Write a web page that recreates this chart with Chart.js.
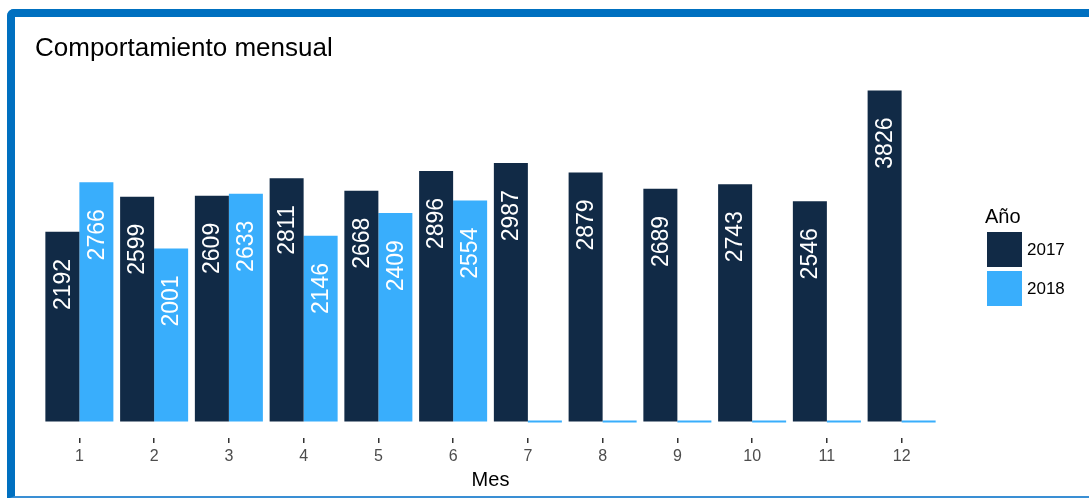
<!DOCTYPE html>
<html>
<head>
<meta charset="utf-8">
<script src="https://cdn.jsdelivr.net/npm/chart.js@4"></script>
<style>
  html, body { margin: 0; padding: 0; background: #fff; overflow: hidden; }
  #marco {
    position: absolute; left: 7px; top: 9px; width: 1120px; height: 479px;
    border-left: 8px solid #0070c0; border-top: 8px solid #0070c0;
    border-bottom: 3px solid #3a8fd4; border-top-left-radius: 7px;
  }
  #contenedor { position: absolute; left: 0; top: 0; width: 1089px; height: 498px; }
</style>
</head>
<body>
<div id="marco"></div>
<div id="contenedor"><canvas id="grafico" width="1089" height="498"></canvas></div>
<script>
const meses = ['1', '2', '3', '4', '5', '6', '7', '8', '9', '10', '11', '12'];
const valores2017 = [2192, 2599, 2609, 2811, 2668, 2896, 2987, 2879, 2689, 2743, 2546, 3826];
const valores2018 = [2766, 2001, 2633, 2146, 2409, 2554, 0, 0, 0, 0, 0, 0];
const anios = ['2017', '2018'];
const colores = ['#112a46', '#39aefc'];

const fuente = '"Liberation Sans", Arial, sans-serif';

// etiquetas giradas dentro de cada barra
const etiquetasBarras = {
  id: 'etiquetasBarras',
  afterDatasetsDraw(chart) {
    const ctx = chart.ctx;
    ctx.save();
    ctx.fillStyle = '#ffffff';
    ctx.font = '23px ' + fuente;
    ctx.textAlign = 'right';
    ctx.textBaseline = 'middle';
    chart.data.datasets.forEach((ds, i) => {
      chart.getDatasetMeta(i).data.forEach((barra, j) => {
        const v = ds.data[j];
        if (!v) return;
        ctx.save();
        ctx.translate(barra.x + 1, barra.y + 27);
        ctx.rotate(-Math.PI / 2);
        ctx.fillText(String(v), 0, 0);
        ctx.restore();
      });
    });
    ctx.restore();
  }
};

// titulo y leyenda al estilo ggplot
const tituloLeyenda = {
  id: 'tituloLeyenda',
  afterDraw(chart) {
    const ctx = chart.ctx;
    ctx.save();
    ctx.fillStyle = '#000';
    ctx.textAlign = 'left';
    ctx.textBaseline = 'alphabetic';
    ctx.font = '26px ' + fuente;
    ctx.fillText('Comportamiento mensual', 35, 56);

    ctx.font = '20px ' + fuente;
    ctx.fillText('Año', 985, 223);
    ctx.font = '17px ' + fuente;
    ctx.textBaseline = 'middle';
    chart.data.datasets.forEach((ds, i) => {
      const y = 232 + i * 39;
      ctx.fillStyle = ds.backgroundColor;
      ctx.fillRect(987, y, 35, 35);
      ctx.fillStyle = '#000';
      ctx.fillText(ds.label, 1027, y + 18);
    });
    ctx.restore();
  }
};

new Chart(document.getElementById('grafico'), {
  type: 'bar',
  data: {
    labels: meses,
    datasets: [
      { label: anios[0], data: valores2017, backgroundColor: colores[0] },
      { label: anios[1], data: valores2018, backgroundColor: colores[1], minBarLength: 2 }
    ]
  },
  options: {
    responsive: false,
    animation: false,
    devicePixelRatio: 1,
    categoryPercentage: 0.91,
    barPercentage: 1.0,
    layout: { padding: { left: 42, right: 150, top: 74, bottom: 0 } },
    plugins: { legend: { display: false }, title: { display: false }, tooltip: { enabled: false } },
    scales: {
      y: { display: false, min: -191, max: 4017 },
      x: {
        afterFit: s => { s.height = 60; },
        border: { display: false },
        grid: { drawOnChartArea: false, drawTicks: true, tickLength: 5, offset: false, color: '#333333', lineWidth: 1.5 },
        ticks: { color: '#4d4d4d', font: { family: fuente, size: 16 }, padding: 4, autoSkip: false, maxRotation: 0 },
        title: { display: true, text: 'Mes', color: '#000', font: { family: fuente, size: 20 }, padding: { top: 0, bottom: 6 } }
      }
    }
  },
  plugins: [etiquetasBarras, tituloLeyenda]
});
</script>
</body>
</html>
